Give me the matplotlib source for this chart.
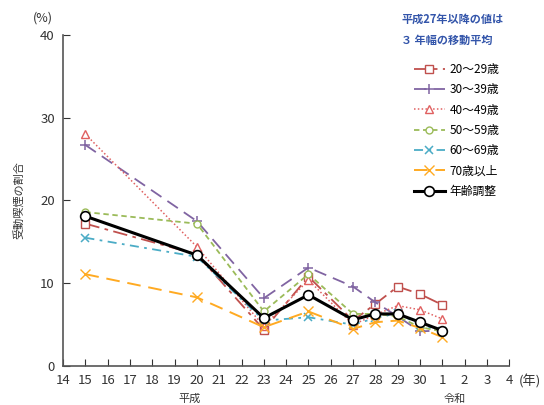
import matplotlib
matplotlib.use("Agg")
import matplotlib.pyplot as plt

plt.rcParams['font.family'] = ['Noto Sans CJK JP', 'DejaVu Sans']

# 年次の位置 (平成14 -> 0, 令和4 -> 20)
tick_labels = ['14', '15', '16', '17', '18', '19', '20', '21', '22', '23', '24',
               '25', '26', '27', '28', '29', '30', '1', '2', '3', '4']
years = ['15', '20', '23', '25', '27', '28', '29', '30', '1']

age_20_29 = [17.2, 13.5, 4.4, 10.8, 5.5, 7.5, 9.6, 8.7, 7.4]
age_30_39 = [26.7, 17.5, 8.2, 11.9, 9.6, 7.7, 6.0, 4.2, 4.3]
age_40_49 = [28.0, 14.4, 4.8, 10.4, 5.0, 6.2, 7.3, 6.8, 5.7]
age_50_59 = [18.6, 17.2, 6.6, 11.1, 6.3, 6.3, 6.0, 4.7, 4.2]
age_60_69 = [15.5, 13.2, 5.5, 5.9, 5.0, 5.8, 6.4, 5.0, 4.3]
age_70 = [11.1, 8.3, 4.7, 6.6, 4.5, 5.3, 5.5, 4.6, 3.5]
adjusted = [18.1, 13.4, 5.8, 8.6, 5.6, 6.3, 6.3, 5.3, 4.3]

x = [tick_labels.index(y) for y in years]

fig = plt.figure(figsize=(5.44, 4.05), dpi=100)
ax = fig.add_axes([0.116, 0.096, 0.82, 0.818])

ax.plot(x, age_20_29, color='#c0504d', linestyle=(0, (8, 3, 2, 3)), lw=1.3,
        marker='s', ms=6, mfc='white', mec='#c0504d', label='20～29歳')
ax.plot(x, age_30_39, color='#8064a2', linestyle=(0, (7, 4)), lw=1.3,
        marker='+', ms=7, mew=1.1, label='30～39歳')
ax.plot(x, age_40_49, color='#e06060', linestyle=(0, (1, 1.5)), lw=1.1,
        marker='^', ms=6, mfc='white', mec='#e06060', label='40～49歳')
ax.plot(x, age_50_59, color='#9bbb59', linestyle=(0, (3, 2)), lw=1.3,
        marker='o', ms=5, mfc='white', mec='#9bbb59', label='50～59歳')
ax.plot(x, age_60_69, color='#4bacc6', linestyle=(0, (5, 3, 1.5, 3)), lw=1.3,
        marker='x', ms=5.5, mew=1.1, label='60～69歳')
ax.plot(x, age_70, color='#ffaa22', linestyle=(0, (7, 4)), lw=1.4,
        marker='x', ms=7, mew=1.0, label='70歳以上')
ax.plot(x, adjusted, color='black', lw=2.2,
        marker='o', ms=7, mfc='white', mec='black', mew=1.2, label='年齢調整')

ax.set_xlim(0, 20)
ax.set_ylim(0, 40)
ax.set_xticks(range(len(tick_labels)))
ax.set_xticklabels(tick_labels)
ax.set_yticks([0, 10, 20, 30, 40])
ax.tick_params(direction='in', labelsize=9.5, colors='#333333', length=5, pad=6)
for s in ['top', 'right']:
    ax.spines[s].set_visible(False)
for s in ['left', 'bottom']:
    ax.spines[s].set_color('#555555')
    ax.spines[s].set_linewidth(1.2)

ax.set_ylabel('受動喫煙の割合', fontsize=8, color='#333333', labelpad=11)
fig.text(43 / 544, 1 - 18 / 405, '(%)', fontsize=9, color='#333333', ha='center', va='center')
fig.text(530 / 544, 1 - 381 / 405, '(年)', fontsize=9.5, color='#333333', ha='center', va='center')
fig.text(190 / 544, 1 - 399 / 405, '平成', fontsize=8, color='#333333', ha='center', va='center')
fig.text(455 / 544, 1 - 399 / 405, '令和', fontsize=8, color='#333333', ha='center', va='center')
fig.text(453 / 544, 1 - 19 / 405, '平成27年以降の値は', fontsize=8, color='#3355aa',
         ha='center', va='center', fontweight='bold')
fig.text(447 / 544, 1 - 40 / 405, '３ 年幅の移動平均', fontsize=8, color='#3355aa',
         ha='center', va='center', fontweight='bold')

ax.legend(loc='upper left', bbox_to_anchor=(408 / 544, 1 - 57 / 405),
          bbox_transform=fig.transFigure, frameon=False, fontsize=8.5,
          handlelength=2.6, labelspacing=0.62, handletextpad=0.4, borderpad=0)

fig.savefig('out.png', dpi=100)
